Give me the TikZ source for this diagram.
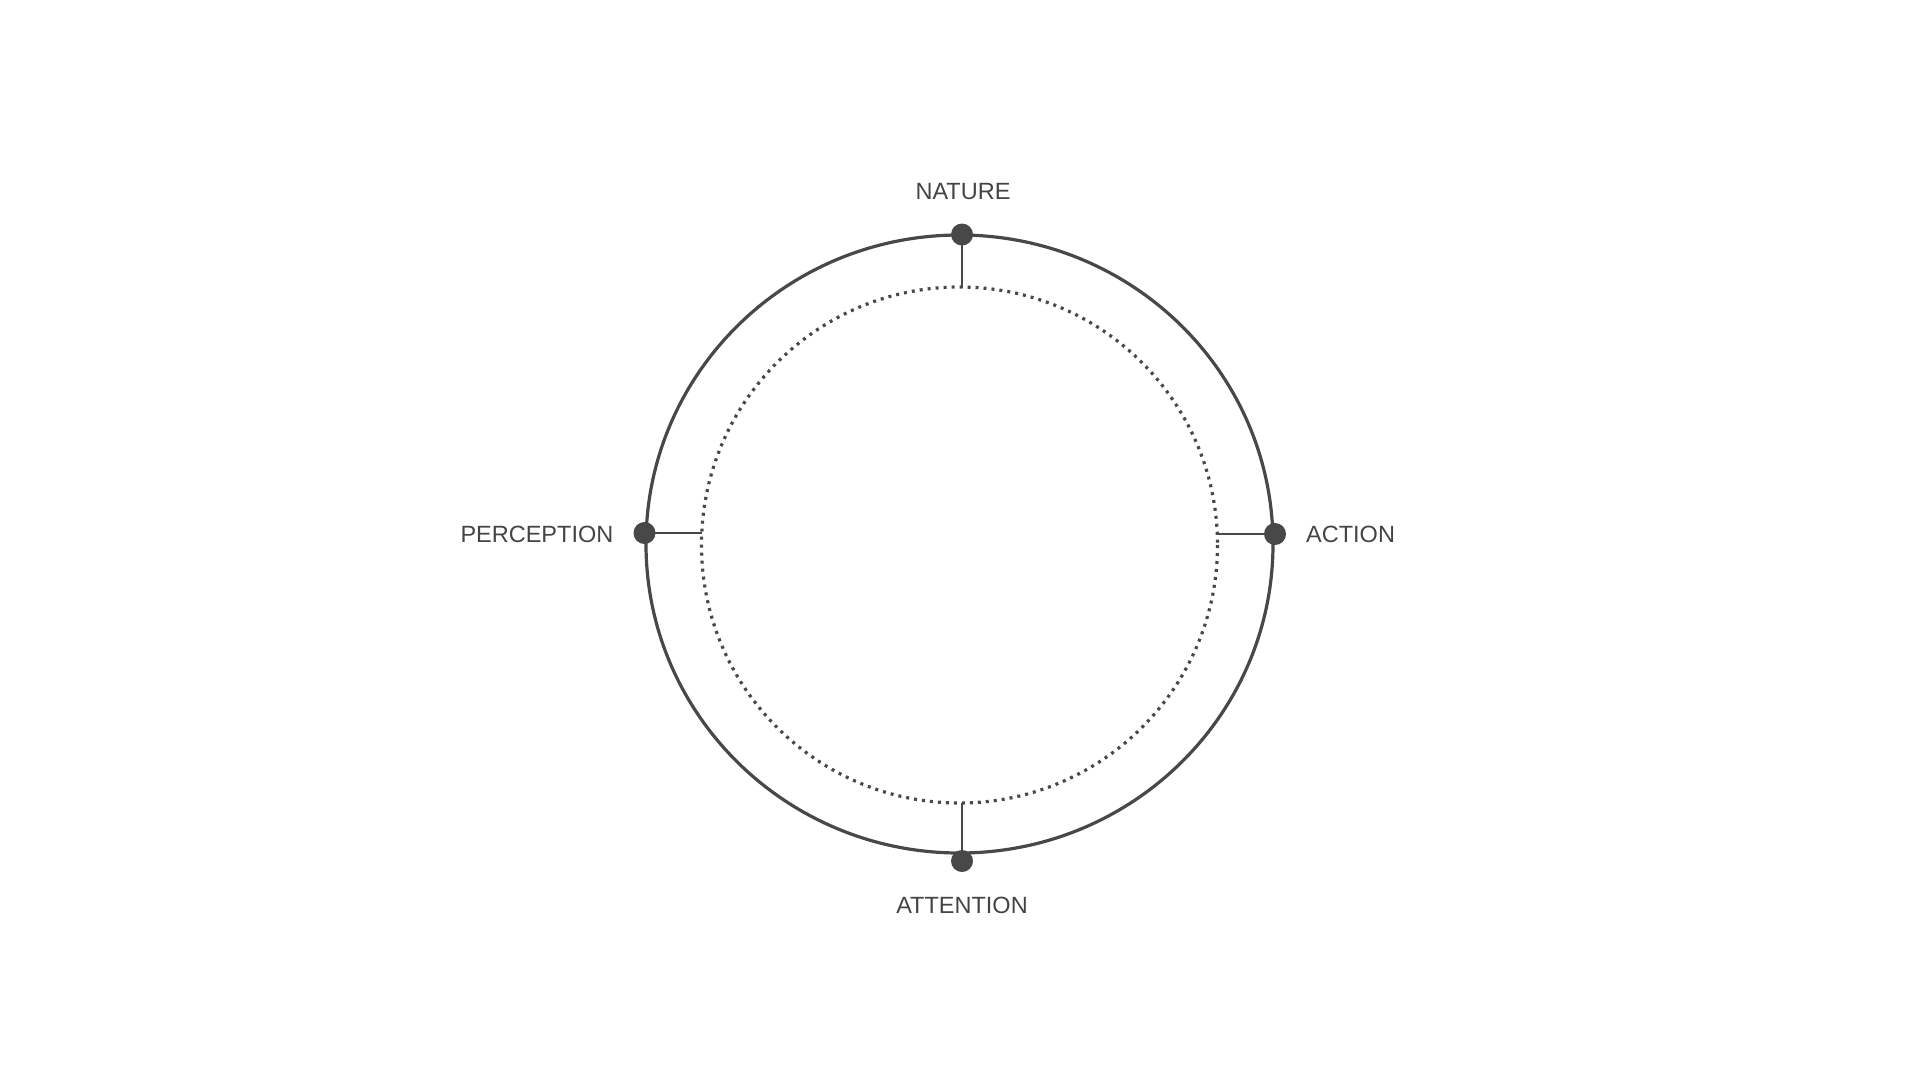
\documentclass[tikz,border=0pt]{standalone}
\usepackage{fontspec}
\setmainfont{Liberation Sans}
\definecolor{ink}{RGB}{72,72,72}
\definecolor{txt}{RGB}{68,68,68}
\begin{document}
\begin{tikzpicture}[x=1pt,y=-1pt,
  ring/.style={draw=ink,line width=3.2pt},
  dotring/.style={draw=ink,line width=3.2pt,dash pattern=on 3pt off 5pt},
  knob/.style={circle,fill=ink,inner sep=0pt,minimum size=22pt},
  spoke/.style={draw=ink,line width=2.8pt},
  lbl/.style={inner sep=0pt,text=txt,font=\fontsize{23.5}{27}\selectfont}]
\useasboundingbox (0,0) rectangle (1920,1080);
\draw[ring] (959.5,544) ellipse [x radius=313.5, y radius=309];
\draw[dotring] (959.5,545) circle [radius=258];
\coordinate (iT) at (962,288);
\coordinate (iB) at (962,803);
\coordinate (iL) at (702,533);
\coordinate (iR) at (1217,534);
\node[knob] (dT) at (962,234.5) {};
\node[knob] (dB) at (962,861) {};
\node[knob] (dL) at (644.5,533) {};
\node[knob] (dR) at (1275,534) {};
\draw[spoke] (iT) -- (dT.center);
\draw[spoke] (iB) -- (dB.center);
\draw[spoke] (iL) -- (dL.center);
\draw[spoke] (iR) -- (dR.center);
\node[lbl,anchor=base] (nature) at (963,199) {NATURE};
\node[lbl,anchor=base west] (action) at (1306,542.3) {ACTION};
\node[lbl,anchor=base east] (perception) at (613.5,542.3) {PERCEPTION};
\node[lbl,anchor=base] (attention) at (962,913.3) {ATTENTION};
\end{tikzpicture}
\end{document}
